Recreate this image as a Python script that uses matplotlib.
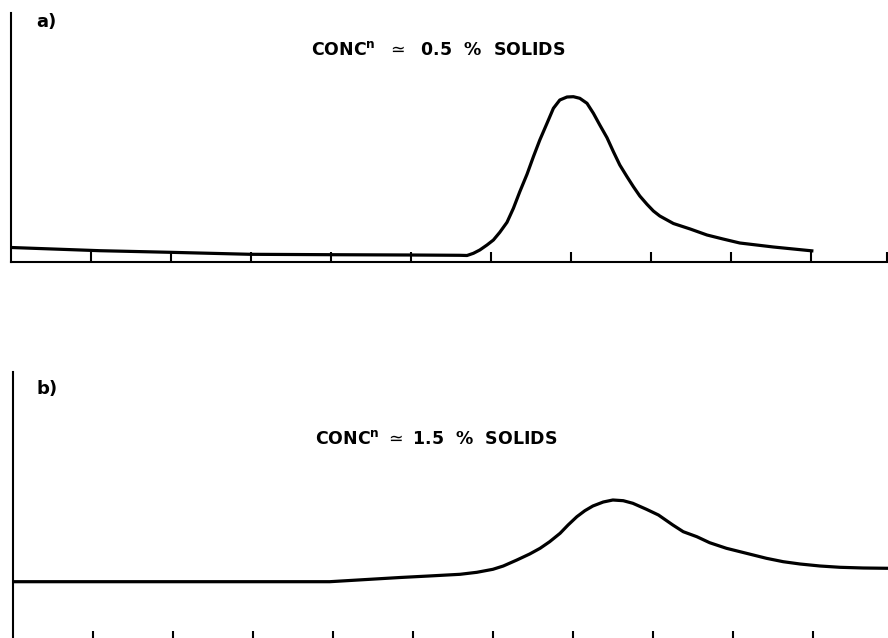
import matplotlib
matplotlib.use("Agg")
import matplotlib.pyplot as plt

# Curva a) concentración ~0.5 % sólidos (x en divisiones, y en unidades relativas)
x_a = [0.0, 1.11, 1.99, 2.99, 3.99, 4.99, 5.61, 5.70, 5.78, 5.86, 5.95, 6.03,
       6.11, 6.20, 6.28, 6.36, 6.45, 6.53, 6.61, 6.70, 6.78, 6.86, 6.95, 7.03,
       7.11, 7.20, 7.28, 7.36, 7.45, 7.53, 7.61, 7.70, 7.78, 7.86, 7.95, 8.03,
       8.11, 8.28, 8.49, 8.70, 8.90, 9.11, 9.32, 9.53, 9.78, 10.03]
y_a = [14.0, 10.8, 9.2, 7.2, 6.8, 6.5, 6.2, 6.0, 8.2, 11.5, 16.5, 21.5,
       29.2, 39.2, 53.2, 69.8, 87.2, 104.8, 121.5, 138.2, 153.2, 161.5, 164.5, 164.8,
       163.2, 158.2, 148.2, 136.5, 123.8, 109.8, 96.5, 84.8, 74.8, 65.5, 57.2, 50.5,
       45.5, 38.0, 32.5, 26.5, 22.5, 18.5, 16.5, 14.5, 12.5, 10.5]

# Curva b) concentración ~1.5 % sólidos
x_b = [0.0, 1.96, 3.96, 4.84, 5.20, 5.59, 5.80, 6.00, 6.13, 6.30, 6.46, 6.59,
       6.71, 6.84, 6.94, 7.05, 7.15, 7.25, 7.38, 7.50, 7.63, 7.75, 7.92, 8.07,
       8.25, 8.38, 8.55, 8.71, 8.92, 9.17, 9.42, 9.63, 9.84, 10.09, 10.34, 10.63,
       10.94]
y_b = [59.3, 59.3, 59.3, 63.5, 65.0, 66.7, 68.7, 71.7, 75.0, 81.0, 87.0, 92.7,
       99.3, 107.7, 116.0, 124.3, 130.3, 135.0, 139.0, 141.0, 140.3, 137.7, 131.7, 126.0,
       116.0, 109.3, 104.3, 98.3, 92.7, 87.7, 82.7, 79.3, 77.0, 75.0, 73.7, 73.0,
       72.7]

ticks_a = [1, 2, 3, 4, 5, 6, 7, 8, 9, 10, 10.95]
ticks_b = [1, 2, 3, 4, 5, 6, 7, 8, 9, 10]

etiqueta_a = "a)"
etiqueta_b = "b)"
texto_a = r"CONC$^{\mathbf{n}}$  $\simeq$  0.5  %  SOLIDS"
texto_b = r"CONC$^{\mathbf{n}}$ $\simeq$ 1.5  %  SOLIDS"

W, H = 888, 638
fig = plt.figure(figsize=(W / 100, H / 100), dpi=100)


def caja(x0, y_top, x1, y_bot):
    # convierte píxeles (origen arriba-izquierda) a fracción de figura
    return [x0 / W, 1 - y_bot / H, (x1 - x0) / W, (y_bot - y_top) / H]


def preparar(ax, xmax, ymax, ticks):
    ax.set_xlim(0, xmax)
    ax.set_ylim(0, ymax)
    for lado in ["top", "right"]:
        ax.spines[lado].set_visible(False)
    for lado in ["left", "bottom"]:
        ax.spines[lado].set_linewidth(1.5)
    ax.set_xticks(ticks)
    ax.set_yticks([])
    ax.tick_params(axis="x", direction="in", length=7, width=1.5,
                   labelbottom=False)
    ax.patch.set_alpha(0)


ax1 = fig.add_axes(caja(11, 13, 887, 261.5))
preparar(ax1, 10.95, 248.5, ticks_a)
ax1.plot(x_a, y_a, color="black", lw=2.3, solid_joinstyle="round",
         solid_capstyle="butt")

ax2 = fig.add_axes(caja(13, 372, 888, 641))
preparar(ax2, 10.94, 269, ticks_b)
ax2.plot(x_b, y_b, color="black", lw=2.3, solid_joinstyle="round",
         solid_capstyle="butt")


def texto(x, y, s, **kw):
    fig.text(x / W, 1 - y / H, s, va="center", fontweight="bold", **kw)


texto(36, 22, etiqueta_a, fontsize=13)
texto(438, 50, texto_a, fontsize=12.5, ha="center")
texto(36, 389, etiqueta_b, fontsize=13)
texto(436, 439, texto_b, fontsize=12.5, ha="center")

plt.savefig("out.png", dpi=100)
plt.close()
